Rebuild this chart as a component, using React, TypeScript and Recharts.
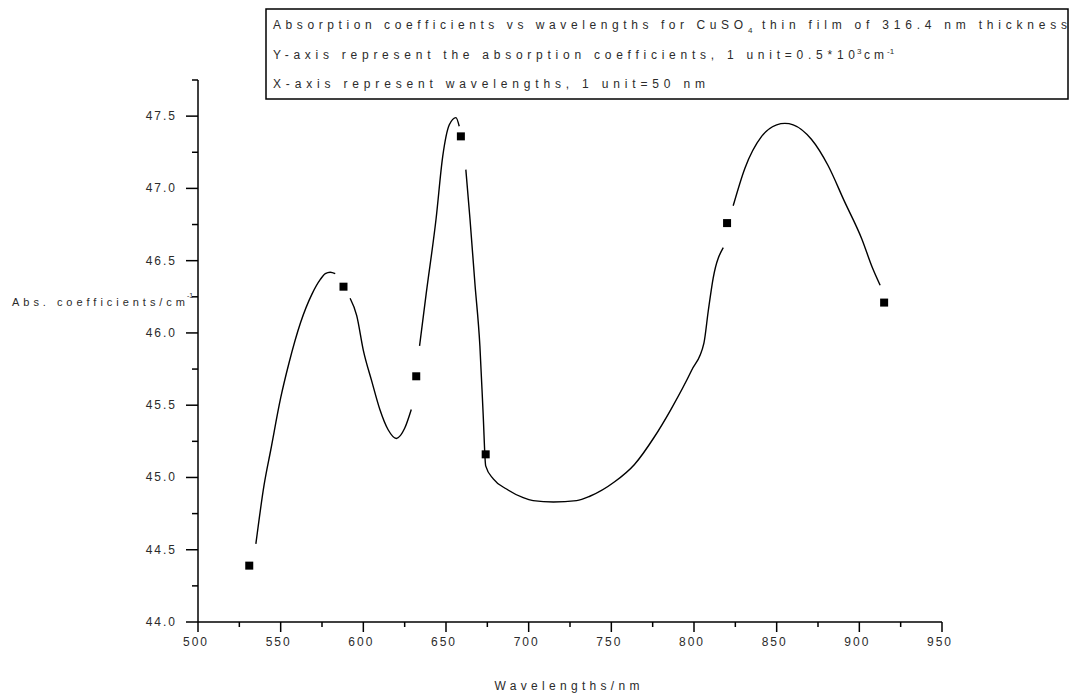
import React from 'react';
import { ComposedChart, Line, Scatter, XAxis, YAxis } from 'recharts';

// measured points
const wavelengths = [531, 588, 632, 659, 674, 820, 915];
const absCoeffs = [44.39, 46.32, 45.7, 47.36, 45.16, 46.76, 46.21];

// fitted curve; it breaks around some of the markers
const fit1X = [535, 540, 544, 550, 555, 562, 569, 574, 577, 580, 583];
const fit1Y = [44.54, 44.95, 45.19, 45.55, 45.79, 46.07, 46.27, 46.37, 46.41, 46.42, 46.41];
const fit2X = [592, 596, 600, 605, 610, 615, 620, 625, 629];
const fit2Y = [46.24, 46.12, 45.88, 45.67, 45.47, 45.33, 45.27, 45.34, 45.47];
const fit3X = [634, 638, 644, 648, 652, 656, 658];
const fit3Y = [45.91, 46.27, 46.79, 47.22, 47.44, 47.49, 47.43];
const fit4X = [662, 664.5, 667.5, 670.5, 672.5, 674, 678.6, 686.6, 696.7, 702.7, 715, 729, 737, 752, 764, 776, 786, 798.5, 806, 808.6, 811.6, 817.7];
const fit4Y = [47.13, 46.79, 46.34, 45.91, 45.43, 45.08, 44.99, 44.92, 44.86, 44.84, 44.83, 44.84, 44.87, 44.97, 45.09, 45.28, 45.47, 45.74, 45.93, 46.15, 46.38, 46.59];
const fit5X = [823.7, 830.8, 840.9, 850, 855, 860, 871, 881, 891, 901.5, 907.6, 912.6];
const fit5Y = [46.88, 47.14, 47.36, 47.44, 47.45, 47.44, 47.34, 47.16, 46.91, 46.65, 46.46, 46.33];

const xTicks = [500, 525, 550, 575, 600, 625, 650, 675, 700, 725, 750, 775, 800, 825, 850, 875, 900, 925, 950];
const yTicks = [44, 44.25, 44.5, 44.75, 45, 45.25, 45.5, 45.75, 46, 46.25, 46.5, 46.75, 47, 47.25, 47.5, 47.75];

const FONT = '"Liberation Sans", Arial, sans-serif';
const TXT = '#2b2b2b';

const toRows = (xs: number[], ys: number[]) => xs.map((x, i) => ({ x, y: ys[i] }));
const points = toRows(wavelengths, absCoeffs);
const segments = [toRows(fit1X, fit1Y), toRows(fit2X, fit2Y), toRows(fit3X, fit3Y), toRows(fit4X, fit4Y), toRows(fit5X, fit5Y)];

const XTick = (props: any) => {
  const { x, y, payload } = props;
  const major = payload.value % 50 === 0;
  return (
    <g>
      <line x1={x} x2={x} y1={y} y2={y + (major ? 10 : 5)} stroke="#000" strokeWidth={1.5} />
      {major && (
        <text x={x - 2} y={y + 24} textAnchor="middle" fontSize={12} fill={TXT} fontFamily={FONT} letterSpacing={2}>
          {payload.value}
        </text>
      )}
    </g>
  );
};

const YTick = (props: any) => {
  const { x, y, payload } = props;
  const major = Math.abs(payload.value * 2 - Math.round(payload.value * 2)) < 1e-6;
  return (
    <g>
      <line x1={x} x2={x - (major ? 12 : 6)} y1={y} y2={y} stroke="#000" strokeWidth={1.5} />
      {major && (
        <text x={x - 21} y={y + 4} textAnchor="end" fontSize={12} fill={TXT} fontFamily={FONT} letterSpacing={2}>
          {payload.value.toFixed(1)}
        </text>
      )}
    </g>
  );
};

const Square = (props: any) => {
  const { cx, cy } = props;
  return <rect x={cx - 4} y={cy - 4} width={8} height={8} fill="#000" />;
};

export default function App() {
  return (
    <div style={{ position: 'absolute', left: 0, top: 0, width: 1070, height: 695, background: '#fff' }}>
      <ComposedChart width={1070} height={695} margin={{ top: 80, right: 128, bottom: 0, left: 0 }}>
        <XAxis
          type="number"
          dataKey="x"
          domain={[500, 950]}
          ticks={xTicks}
          interval={0}
          allowDataOverflow
          height={73}
          tickSize={0}
          tickMargin={0}
          tickLine={false}
          axisLine={{ stroke: '#000', strokeWidth: 1.5 }}
          tick={<XTick />}
        />
        <YAxis
          type="number"
          dataKey="y"
          domain={[44, 47.75]}
          ticks={yTicks}
          interval={0}
          allowDataOverflow
          width={198}
          tickSize={0}
          tickMargin={0}
          tickLine={false}
          axisLine={{ stroke: '#000', strokeWidth: 1.5 }}
          tick={<YTick />}
        />
        {segments.map((seg, i) => (
          <Line
            key={i}
            data={seg}
            dataKey="y"
            type="monotone"
            stroke="#000"
            strokeWidth={1.4}
            dot={false}
            activeDot={false}
            isAnimationActive={false}
          />
        ))}
        <Scatter data={points} dataKey="y" shape={<Square />} isAnimationActive={false} />
      </ComposedChart>

      <svg width={1070} height={695} style={{ position: 'absolute', left: 0, top: 0, pointerEvents: 'none' }}>
        <g fontFamily={FONT} fill={TXT}>
          {/* legend box */}
          <rect x={266} y={9} width={802} height={90} fill="none" stroke="#000" strokeWidth={1.5} />
          <text x={273} y={29} fontSize={12} textLength={470} lengthAdjust="spacing">
            Absorption coefficients vs wavelengths for CuSO
          </text>
          <text x={748} y={33} fontSize={8}>4</text>
          <text x={762} y={29} fontSize={12} textLength={305} lengthAdjust="spacing">
            thin film of 316.4 nm thickness
          </text>
          <text x={273} y={59} fontSize={12} textLength={582} lengthAdjust="spacing">
            Y-axis represent the absorption coefficients, 1 unit=0.5*10
          </text>
          <text x={857} y={54} fontSize={8}>3</text>
          <text x={864} y={59} fontSize={12} textLength={20} lengthAdjust="spacing">cm</text>
          <text x={887} y={54} fontSize={8}>-1</text>
          <text x={273} y={88} fontSize={12} textLength={432} lengthAdjust="spacing">
            X-axis represent wavelengths, 1 unit=50 nm
          </text>

          {/* axis titles */}
          <text x={12} y={306} fontSize={11} textLength={173} lengthAdjust="spacing">
            Abs. coefficients/cm
          </text>
          <text x={187} y={298} fontSize={7}>-1</text>
          <text x={567} y={690} fontSize={12} textAnchor="middle" textLength={145} lengthAdjust="spacing">
            Wavelengths/nm
          </text>
        </g>
      </svg>
    </div>
  );
}
